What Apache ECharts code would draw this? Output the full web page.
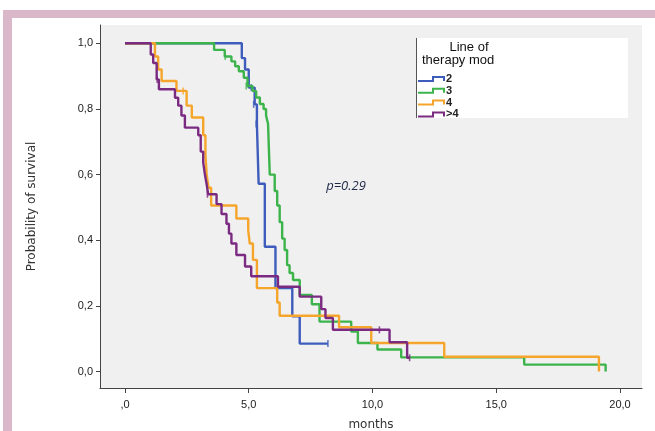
<!DOCTYPE html>
<html>
<head>
<meta charset="utf-8">
<style>
  html, body { margin: 0; padding: 0; background: #ffffff; }
  #chart { width: 655px; height: 431px; }
</style>
<script src="https://cdn.jsdelivr.net/npm/echarts@6/dist/echarts.min.js"></script>
</head>
<body>
<div id="chart"></div>
<script>
// Kaplan-Meier steps: [months, survival after the event]
var line2 = [[0, 1], [4.72, 0.955], [4.85, 0.92], [5.0, 0.865], [5.24, 0.814], [5.33, 0.754],
  [5.4, 0.572], [5.65, 0.38], [6.08, 0.254], [6.76, 0.168], [7.06, 0.085], [8.2, 0.085]];
var line3 = [[0, 1], [3.6, 0.98], [4.03, 0.96], [4.3, 0.945], [4.45, 0.93], [4.6, 0.915],
  [4.8, 0.895], [4.95, 0.87], [5.15, 0.855], [5.3, 0.835], [5.45, 0.815], [5.6, 0.8],
  [5.7, 0.78], [5.78, 0.755], [5.82, 0.665], [5.85, 0.6], [6.05, 0.55], [6.15, 0.506],
  [6.25, 0.455], [6.35, 0.405], [6.45, 0.37], [6.55, 0.324], [6.65, 0.3], [6.79, 0.279],
  [7.06, 0.233], [7.55, 0.205], [7.86, 0.152], [9.14, 0.122], [9.41, 0.087], [10.2, 0.067],
  [11.16, 0.043], [16.13, 0.021], [19.42, 0]];
var line4 = [[0, 1], [1.21, 0.96], [1.34, 0.92], [1.48, 0.885], [2.08, 0.855], [2.49, 0.81],
  [2.7, 0.774], [3.16, 0.72], [3.25, 0.66], [3.3, 0.6], [3.38, 0.56], [3.48, 0.506],
  [4.5, 0.466], [4.98, 0.43], [5.04, 0.39], [5.17, 0.34], [5.33, 0.254], [6.15, 0.21],
  [6.25, 0.17], [8.65, 0.135], [9.95, 0.087], [12.9, 0.045], [19.15, 0]];
var lineGt4 = [[0, 1], [1.04, 0.966], [1.14, 0.94], [1.28, 0.89], [1.37, 0.86], [2.02, 0.834],
  [2.15, 0.81], [2.28, 0.78], [2.42, 0.743], [2.96, 0.72], [3.06, 0.67], [3.16, 0.637],
  [3.23, 0.6], [3.3, 0.57], [3.36, 0.54], [3.7, 0.51], [3.9, 0.48], [4.1, 0.45], [4.2, 0.42],
  [4.3, 0.39], [4.5, 0.355], [4.85, 0.32], [5.1, 0.29], [6.18, 0.258], [7.06, 0.228],
  [7.93, 0.19], [8.1, 0.163], [8.4, 0.127], [10.69, 0.089], [11.4, 0.042], [11.5, 0.042]];

// censored observations
var cens2 = [[5.1, 0.865], [5.2, 0.814], [5.3, 0.754], [8.2, 0.085]];
var cens3 = [[4.05, 0.96], [4.9, 0.87]];
var cens4 = [[2.35, 0.855], [4.98, 0.45]];
var censGt4 = [[1.3, 0.89], [3.33, 0.54], [10.28, 0.127], [11.5, 0.042]];

var groups = ['2', '3', '4', '>4'];
var colors = ['#3d5cbc', '#3cb44b', '#f5a52c', '#7b2a82'];
var xTicks = [0, 5, 10, 15, 20];
var yTicks = [0, 0.2, 0.4, 0.6, 0.8, 1.0];

function comma(v) {
  return v.toFixed(1).replace('.', ',');
}

var curves = [line2, line3, line4, lineGt4];
var censors = [cens2, cens3, cens4, censGt4];

var series = [];
for (var i = 0; i < groups.length; i++) {
  series.push({
    name: groups[i], type: 'line', step: 'end', data: curves[i],
    showSymbol: false, lineStyle: { color: colors[i], width: 2.4 }, z: 2 + i
  });
  series.push({
    name: groups[i], type: 'scatter', data: censors[i], symbol: 'rect',
    symbolSize: [1.6, 7], itemStyle: { color: colors[i] }, z: 2 + i
  });
}

// legend built by hand, SPSS style
var legendEls = [
  { type: 'rect', shape: { x: 416, y: 38, width: 212, height: 80 }, style: { fill: '#ffffff' } },
  { type: 'line', shape: { x1: 416.5, y1: 38, x2: 416.5, y2: 118 }, style: { stroke: '#555', lineWidth: 1 } },
  { type: 'text', x: 469, y: 47, style: { text: 'Line of', font: '13px "Liberation Sans"', fill: '#111', align: 'center', verticalAlign: 'middle' } },
  { type: 'text', x: 422, y: 60, style: { text: 'therapy mod', font: '13px "Liberation Sans"', fill: '#111', align: 'left', verticalAlign: 'middle' } }
];
for (var k = 0; k < groups.length; k++) {
  var y0 = 81 + k * 11.8;
  legendEls.push({
    type: 'polyline',
    shape: { points: [[418, y0], [433, y0], [433, y0 - 4], [444, y0 - 4], [444, y0]] },
    style: { stroke: colors[k], lineWidth: 2, fill: null }
  });
  legendEls.push({
    type: 'text', x: 446, y: y0 - 2,
    style: { text: groups[k], font: 'bold 11px "Liberation Sans"', fill: '#222', verticalAlign: 'middle' }
  });
}

var chart = echarts.init(document.getElementById('chart'));
chart.setOption({
  animation: false,
  backgroundColor: '#ffffff',
  grid: {
    left: 100, right: 13, top: 25, bottom: 43, containLabel: false, outerBoundsMode: 'none',
    show: true, backgroundColor: '#f0f0f0', borderWidth: 0
  },
  xAxis: {
    type: 'value', min: -1.01, max: 20.89,
    name: 'months', nameLocation: 'middle', nameGap: 31,
    nameTextStyle: { fontFamily: 'DejaVu Sans', fontSize: 12, color: '#333' },
    axisLine: { show: true, onZero: false, lineStyle: { color: '#444', width: 1 } },
    axisTick: { show: true, customValues: xTicks, length: 5, lineStyle: { color: '#444' } },
    axisLabel: {
      customValues: xTicks, fontFamily: 'Liberation Sans', fontSize: 11, color: '#222', margin: 11,
      formatter: function (v) { return v === 0 ? ',0' : comma(v); }
    },
    splitLine: { show: false }
  },
  yAxis: {
    type: 'value', min: -0.0503, max: 1.0558,
    name: 'Probability of survival', nameLocation: 'middle', nameGap: 62,
    nameTextStyle: { fontFamily: 'DejaVu Sans', fontSize: 12, color: '#333' },
    axisLine: { show: true, onZero: false, lineStyle: { color: '#444', width: 1 } },
    axisTick: { show: true, customValues: yTicks, length: 4, lineStyle: { color: '#444' } },
    axisLabel: {
      customValues: yTicks, fontFamily: 'Liberation Sans', fontSize: 11, color: '#222', margin: 7,
      formatter: function (v) { return comma(v); }
    },
    splitLine: { show: false }
  },
  graphic: [
    { type: 'rect', shape: { x: 3, y: 10, width: 652, height: 8 }, style: { fill: '#dbb8c9' }, z: 100 },
    { type: 'rect', shape: { x: 3, y: 10, width: 9, height: 421 }, style: { fill: '#dbb8c9' }, z: 100 },
    { type: 'text', x: 346, y: 186, style: { text: 'p=0.29', font: 'italic 13px "Open Sans"', fill: '#1e2a48', align: 'center', verticalAlign: 'middle' }, z: 100 },
    { type: 'group', children: legendEls, z: 100 }
  ],
  series: series
});
</script>
</body>
</html>
